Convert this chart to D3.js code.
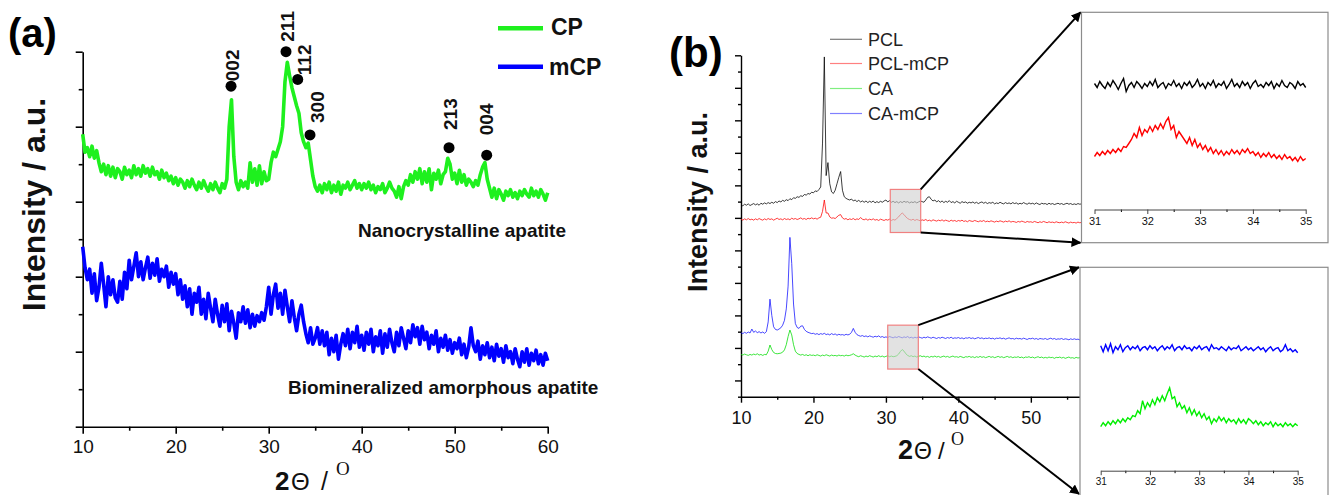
<!DOCTYPE html>
<html>
<head>
<meta charset="utf-8">
<script src="https://cdn.jsdelivr.net/npm/d3@7"></script>
<style>
  body { margin: 0; background: #fff; }
  svg { display: block; font-family: Arial, "Liberation Sans", sans-serif; }
</style>
</head>
<body>
<div id="figure"></div>
<script>
// 1: DATA

// panel (a): 2-theta 10..60, step 0.25
const thetaA = d3.range(201).map(i => 10 + i * 0.25);

const cpCounts = [
  390, 366, 372, 360, 374, 358, 368, 352,
  340, 350, 336, 348, 334, 346, 332, 344,
  340, 330, 346, 336, 342, 332, 348, 336,
  344, 334, 348, 338, 344, 334, 346, 336,
  340, 330, 342, 332, 338, 328, 334, 324,
  332, 322, 330, 326, 318, 328, 320, 330,
  322, 316, 326, 318, 328, 320, 314, 324,
  316, 326, 318, 312, 324, 318, 330, 400,
  436, 360, 326, 316, 328, 320, 326, 318,
  352, 326, 344, 322, 348, 324, 340, 328,
  330, 352, 366, 360, 370, 380, 400, 460,
  486, 468, 452, 440, 428, 418, 392, 380,
  372, 378, 356, 334, 320, 314, 322, 312,
  324, 316, 326, 312, 322, 314, 326, 310,
  322, 318, 326, 316, 322, 328, 318, 324,
  316, 324, 318, 326, 316, 322, 312, 320,
  316, 324, 312, 318, 326, 318, 314, 306,
  320, 304, 320, 328, 322, 336, 326, 340,
  330, 344, 324, 340, 326, 344, 316, 338,
  330, 342, 324, 336, 340, 358, 350, 330,
  338, 324, 342, 326, 336, 322, 330, 326,
  320, 328, 322, 336, 346, 352, 330, 318,
  306, 318, 304, 316, 310, 302, 314, 308,
  316, 306, 312, 304, 314, 308, 316, 310,
  306, 318, 308, 314, 306, 316, 310, 302,
  312
];

const mcpCounts = [
  240, 212, 196, 210, 178, 204, 168, 186,
  218, 190, 160, 200, 176, 196, 172, 166,
  194, 170, 206, 184, 222, 196, 214, 232,
  200, 220, 196, 212, 226, 198, 218, 202,
  224, 194, 210, 200, 214, 186, 206, 190,
  204, 176, 196, 170, 188, 160, 184, 150,
  178, 166, 186, 150, 170, 144, 178, 158,
  140, 170, 150, 134, 162, 140, 164, 128,
  154, 138, 118, 152, 140, 160, 138, 156,
  132, 150, 134, 148, 140, 152, 142, 160,
  186, 150, 176, 190, 158, 178, 150, 182,
  160, 140, 168, 146, 128, 150, 162, 140,
  124, 112, 132, 110, 118, 132, 110, 128,
  108, 126, 96, 118, 100, 122, 90, 110,
  124, 108, 130, 104, 126, 112, 134, 106,
  122, 102, 126, 110, 130, 100, 120, 108,
  128, 98, 124, 106, 130, 112, 100, 126,
  108, 132, 118, 104, 128, 112, 136, 120,
  132, 110, 134, 116, 126, 104, 122, 110,
  128, 100, 118, 106, 122, 102, 116, 98,
  112, 104, 118, 96, 110, 92, 106, 132,
  108, 100, 114, 90, 108, 96, 112, 92,
  106, 88, 110, 94, 104, 86, 108, 92,
  100, 84, 104, 90, 80, 100, 86, 104,
  82, 98, 88, 102, 84, 96, 82, 98,
  88
];

const seriesA = [
  { name: "CP", color: "#1ef01e", values: cpCounts },
  { name: "mCP", color: "#0000ff", values: mcpCounts }
];

const peakLabels = [
  { hkl: "002", theta: 25.95, counts: 454 },
  { hkl: "211", theta: 31.86, counts: 500 },
  { hkl: "112", theta: 33.12, counts: 463 },
  { hkl: "300", theta: 34.44, counts: 389 },
  { hkl: "213", theta: 49.39, counts: 372 },
  { hkl: "004", theta: 53.44, counts: 362 }
];

// panel (b): 2-theta 10..57, step 0.25
const thetaB = d3.range(189).map(i => 10 + i * 0.25);

const pclCounts = [
  11.80, 11.74, 11.84, 11.78, 11.86, 11.76, 11.82, 11.88,
  11.80, 11.86, 11.78, 11.90, 11.84, 11.92, 11.86, 11.94,
  11.88, 11.96, 11.90, 12.00, 11.94, 12.04, 11.98, 12.08,
  12.02, 12.12, 12.06, 12.18, 12.12, 12.24, 12.20, 12.30,
  12.26, 12.36, 12.32, 12.44, 12.40, 12.50, 12.46, 12.58,
  12.54, 12.66, 12.62, 12.74, 12.90, 15.60, 20.90, 13.60,
  14.40, 13.10, 12.60, 12.50, 12.70, 13.10, 13.50, 13.85,
  12.70, 12.30, 12.20, 12.14, 12.10, 12.16, 12.04, 12.10,
  12.00, 12.08, 11.98, 12.04, 11.96, 12.04, 11.94, 12.02,
  11.96, 12.04, 11.92, 12.00, 11.94, 12.02, 11.96, 12.04,
  12.10, 11.98, 12.06, 11.96, 12.02, 11.94, 12.00, 11.92,
  12.00, 11.94, 12.02, 11.96, 12.00, 11.92, 11.98, 11.94,
  12.00, 11.92, 11.98, 12.04, 12.00, 11.96, 12.10, 12.26,
  12.30, 12.14, 12.04, 12.10, 11.98, 12.06, 11.96, 12.04,
  11.94, 12.02, 11.96, 12.06, 11.94, 12.00, 11.92, 12.02,
  11.96, 11.90, 12.00, 11.94, 11.98, 11.90, 11.96, 11.92,
  11.98, 11.90, 11.96, 11.88, 11.94, 11.98, 11.90, 11.96,
  11.88, 11.94, 11.90, 11.96, 11.86, 11.92, 11.88, 11.96,
  11.90, 11.86, 11.94, 11.88, 11.92, 11.86, 11.94, 11.88,
  11.92, 11.84, 11.90, 11.86, 11.94, 11.88, 11.84, 11.92,
  11.86, 11.90, 11.84, 11.92, 11.86, 11.82, 11.90, 11.86,
  11.88, 11.82, 11.90, 11.84, 11.88, 11.82, 11.86, 11.90,
  11.84, 11.88, 11.82, 11.86, 11.90, 11.84, 11.88, 11.82,
  11.86, 11.82, 11.88, 11.84, 11.86
];

const pclMcpCounts = [
  10.92, 10.86, 10.94, 10.88, 10.96, 10.88, 10.92, 10.86,
  10.94, 10.88, 10.96, 10.90, 10.86, 10.94, 10.88, 10.96,
  10.90, 10.94, 10.86, 10.92, 10.98, 10.90, 10.94, 10.88,
  10.96, 10.90, 10.94, 10.88, 10.98, 10.92, 10.96, 10.90,
  10.94, 11.00, 10.92, 10.96, 10.90, 10.98, 10.94, 11.00,
  10.94, 10.98, 10.92, 11.00, 11.04, 11.40, 12.10, 11.30,
  11.30, 11.06, 10.98, 11.00, 10.96, 11.06, 11.16, 11.20,
  11.00, 10.92, 10.96, 10.88, 10.94, 10.90, 10.96, 10.88,
  10.94, 10.90, 11.02, 10.92, 10.88, 10.94, 10.86, 10.92,
  10.88, 10.94, 10.86, 10.90, 10.84, 10.92, 10.88, 10.84,
  10.90, 10.86, 10.92, 10.84, 10.90, 10.86, 10.96, 11.06,
  11.20, 11.30, 11.20, 11.06, 10.96, 10.90, 10.86, 10.92,
  10.84, 10.90, 10.86, 10.82, 10.88, 10.84, 10.90, 10.82,
  10.86, 10.80, 10.88, 10.84, 10.80, 10.86, 10.82, 10.88,
  10.80, 10.86, 10.82, 10.78, 10.86, 10.80, 10.84, 10.78,
  10.84, 10.80, 10.86, 10.78, 10.82, 10.76, 10.84, 10.80,
  10.78, 10.84, 10.80, 10.76, 10.82, 10.78, 10.84, 10.76,
  10.80, 10.76, 10.82, 10.78, 10.74, 10.80, 10.76, 10.82,
  10.78, 10.74, 10.80, 10.76, 10.82, 10.74, 10.78, 10.76,
  10.72, 10.78, 10.74, 10.80, 10.76, 10.72, 10.78, 10.74,
  10.76, 10.72, 10.78, 10.74, 10.70, 10.76, 10.72, 10.78,
  10.74, 10.70, 10.76, 10.72, 10.74, 10.70, 10.76, 10.72,
  10.70, 10.74, 10.70, 10.76, 10.72, 10.68, 10.74, 10.70,
  10.72, 10.68, 10.74, 10.70, 10.72
];

const caCounts = [
  2.60, 2.56, 2.62, 2.58, 2.54, 2.60, 2.56, 2.62,
  2.58, 2.64, 2.56, 2.60, 2.54, 2.60, 2.58, 2.80,
  3.18, 2.90, 2.72, 2.66, 2.64, 2.66, 2.68, 2.74,
  2.88, 3.20, 3.70, 4.10, 3.80, 3.20, 2.80, 2.66,
  2.60, 2.56, 2.60, 2.54, 2.58, 2.52, 2.58, 2.54,
  2.56, 2.52, 2.58, 2.54, 2.50, 2.56, 2.52, 2.58,
  2.54, 2.50, 2.56, 2.52, 2.54, 2.50, 2.56, 2.52,
  2.54, 2.50, 2.56, 2.52, 2.54, 2.58, 2.64, 2.56,
  2.50, 2.46, 2.52, 2.48, 2.44, 2.50, 2.46, 2.52,
  2.48, 2.44, 2.50, 2.46, 2.52, 2.46, 2.50, 2.44,
  2.48, 2.52, 2.46, 2.50, 2.46, 2.48, 2.52, 2.62,
  2.78, 2.90, 2.80, 2.64, 2.54, 2.48, 2.52, 2.46,
  2.50, 2.44, 2.48, 2.52, 2.46, 2.50, 2.44, 2.48,
  2.42, 2.48, 2.44, 2.50, 2.44, 2.48, 2.42, 2.46,
  2.50, 2.44, 2.48, 2.42, 2.46, 2.50, 2.44, 2.46,
  2.42, 2.48, 2.44, 2.40, 2.46, 2.44, 2.48, 2.42,
  2.46, 2.40, 2.46, 2.42, 2.48, 2.42, 2.46, 2.40,
  2.44, 2.48, 2.42, 2.46, 2.40, 2.44, 2.48, 2.42,
  2.46, 2.40, 2.44, 2.48, 2.42, 2.46, 2.40, 2.44,
  2.42, 2.46, 2.40, 2.44, 2.38, 2.44, 2.42, 2.46,
  2.40, 2.44, 2.38, 2.42, 2.46, 2.40, 2.44, 2.38,
  2.42, 2.38, 2.44, 2.40, 2.42, 2.36, 2.42, 2.40,
  2.44, 2.38, 2.42, 2.36, 2.40, 2.44, 2.38, 2.40,
  2.36, 2.42, 2.38, 2.40, 2.38
];

const caMcpCounts = [
  3.94, 3.88, 3.96, 3.90, 3.98, 3.92, 4.16, 3.96,
  4.04, 3.94, 4.00, 3.92, 3.98, 3.90, 4.00, 4.60,
  6.00, 5.00, 4.30, 4.14, 4.10, 4.16, 4.24, 4.40,
  4.70, 5.40, 6.80, 9.80, 8.20, 5.70, 4.50, 4.26,
  4.20, 4.34, 4.36, 4.14, 4.02, 3.96, 3.92, 3.88,
  3.90, 3.84, 3.88, 3.82, 3.88, 3.84, 3.90, 3.82,
  3.86, 3.80, 3.88, 3.82, 3.86, 3.78, 3.84, 3.80,
  3.82, 3.78, 3.84, 3.80, 3.84, 3.96, 4.20, 3.96,
  3.82, 3.76, 3.72, 3.76, 3.70, 3.74, 3.68, 3.74,
  3.70, 3.66, 3.72, 3.68, 3.74, 3.66, 3.70, 3.64,
  3.68, 3.64, 3.70, 3.66, 3.62, 3.68, 3.64, 3.70,
  3.66, 3.62, 3.68, 3.64, 3.70, 3.62, 3.66, 3.60,
  3.66, 3.62, 3.68, 3.64, 3.60, 3.66, 3.62, 3.68,
  3.64, 3.60, 3.66, 3.62, 3.58, 3.64, 3.60, 3.66,
  3.62, 3.58, 3.64, 3.60, 3.66, 3.58, 3.62, 3.60,
  3.64, 3.58, 3.62, 3.56, 3.62, 3.60, 3.64, 3.58,
  3.62, 3.56, 3.60, 3.64, 3.58, 3.62, 3.56, 3.60,
  3.58, 3.62, 3.56, 3.60, 3.54, 3.60, 3.58, 3.62,
  3.56, 3.60, 3.54, 3.58, 3.62, 3.56, 3.58, 3.54,
  3.60, 3.56, 3.58, 3.54, 3.60, 3.56, 3.52, 3.58,
  3.56, 3.60, 3.54, 3.58, 3.52, 3.58, 3.56, 3.54,
  3.58, 3.52, 3.56, 3.60, 3.54, 3.58, 3.52, 3.56,
  3.54, 3.58, 3.52, 3.56, 3.54, 3.50, 3.56, 3.52,
  3.56, 3.52, 3.54, 3.50, 3.54
];

const seriesB = [
  { name: "PCL", color: "#000000", legend: "#7a7a7a", values: pclCounts },
  { name: "PCL-mCP", color: "#ff0000", legend: "#ff8080", values: pclMcpCounts },
  { name: "CA", color: "#00dd00", legend: "#80ee80", values: caCounts },
  { name: "CA-mCP", color: "#1010ff", legend: "#8080ff", values: caMcpCounts }
];

// zoomed insets: 2-theta 31..35, step 0.05
const thetaInset = d3.range(81).map(i => 31 + i * 0.05);

const pclZoom = [
  126, 122, 128, 124, 121, 127, 123, 129, 125, 120,
  126, 131, 118, 124, 127, 122, 128, 125, 121, 126,
  123, 128, 124, 130, 122, 125, 127, 121, 126, 124,
  129, 123, 126, 121, 127, 124, 128, 122, 125, 130,
  123, 126, 121, 127, 124, 129, 122, 126, 124, 128,
  121, 125, 130, 123, 126, 122, 128, 124, 127, 121,
  126, 129, 123, 125, 122, 127, 124, 128, 121, 126,
  123, 129, 124, 122, 127, 125, 121, 128, 124, 126,
  122
];
const pclMcpZoom = [
  53, 57, 54, 58, 55, 59, 56, 60, 57, 61,
  58, 63, 62, 66, 70, 76, 72, 82, 74, 80,
  77, 83, 78, 84, 80, 86, 81, 88, 92, 80,
  84, 72, 78, 74, 70, 66, 72, 64, 70, 62,
  66, 60, 64, 58, 62, 56, 60, 55, 59, 54,
  58, 55, 60, 56, 59, 55, 60, 57, 61, 56,
  58, 54, 57, 52, 56, 53, 57, 52, 55, 51,
  54, 50, 55, 51, 53, 49, 52, 48, 53, 49,
  51
];
const caMcpZoom = [
  125, 119, 126, 120, 127, 118, 124, 121, 126, 119,
  123, 125, 121, 124, 122, 125, 120, 123, 124, 121,
  125, 122, 124, 120, 123, 125, 121, 124, 122, 126,
  120, 123, 124, 121, 125, 122, 123, 120, 124, 122,
  125, 121, 123, 124, 120, 126, 122, 123, 121, 124,
  122, 120, 124, 121, 123, 122, 125, 120, 122, 124,
  121, 123, 120, 122, 124, 121, 123, 119, 122, 124,
  120, 122, 123, 119, 121, 126, 120, 122, 119, 121,
  118
];
const caZoom = [
  44, 48, 45, 49, 46, 50, 47, 51, 48, 52,
  49, 53, 51, 55, 54, 60, 57, 70, 62, 68,
  64, 71, 66, 73, 69, 75, 70, 77, 83, 72,
  74, 64, 68, 62, 65, 58, 63, 56, 61, 55,
  59, 53, 57, 51, 54, 47, 52, 49, 54, 50,
  53, 48, 52, 49, 51, 47, 52, 48, 51, 47,
  52, 50, 47, 50, 46, 49, 45, 48, 46, 49,
  44, 48, 45, 47, 44, 48, 45, 47, 44, 47,
  45
];

const zoomTicks = [31, 32, 33, 34, 35];

// 2: LAYOUT
const W = 1329, H = 495;
const svg = d3.select("#figure").append("svg")
    .attr("width", W).attr("height", H);

const defs = svg.append("defs");
defs.append("marker")
    .attr("id", "arrowHead")
    .attr("viewBox", "0 0 10 10")
    .attr("refX", 9).attr("refY", 5)
    .attr("markerWidth", 5).attr("markerHeight", 5)
    .attr("orient", "auto")
    .append("path").attr("d", "M0,0 L10,5 L0,10 Z").attr("fill", "#000");

const toPoints = (xs, ys) => ys.map((v, i) => [xs[i], v]).filter(d => d[0] !== undefined);

function styleAxis(g, width, fontSize) {
    g.selectAll(".domain, .tick line").attr("stroke", "#000").attr("stroke-width", width);
    g.selectAll(".tick text").attr("font-size", fontSize).attr("fill", "#111")
        .attr("font-family", "Arial, 'Liberation Sans', sans-serif");
}

// ==========================================
//         PANEL (a)
// ==========================================
const xA = d3.scaleLinear().domain([10, 60]).range([82.7, 547.7]);
const yA = d3.scaleLinear().domain([0, 500]).range([426.7, 51.7]);
const gA = svg.append("g");

// axes
gA.append("g").attr("transform", `translate(0,${yA(0)})`)
    .call(d3.axisBottom(xA).tickValues(d3.range(15, 60, 10)).tickSize(4).tickSizeOuter(0).tickFormat(""))
    .call(g => g.select(".domain").remove())
    .call(g => styleAxis(g, 1.6, 19));
gA.append("g").attr("transform", `translate(0,${yA(0)})`)
    .call(d3.axisBottom(xA).tickValues(d3.range(10, 61, 10)).tickSize(7).tickSizeOuter(0).tickPadding(6).tickFormat(d3.format("d")))
    .call(g => styleAxis(g, 1.6, 19));
gA.append("g").attr("transform", `translate(${xA(10)},0)`)
    .call(d3.axisLeft(yA).tickValues(d3.range(50, 500, 100)).tickSize(4).tickSizeOuter(0).tickFormat(""))
    .call(g => g.select(".domain").remove())
    .call(g => styleAxis(g, 1.6, 19));
gA.append("g").attr("transform", `translate(${xA(10)},0)`)
    .call(d3.axisLeft(yA).tickValues(d3.range(0, 501, 100)).tickSize(7).tickSizeOuter(0).tickFormat(""))
    .call(g => styleAxis(g, 1.6, 19));

// curves
const lineA = d3.line().x(d => xA(d[0])).y(d => yA(d[1]));
seriesA.forEach(s => {
    gA.append("path")
        .datum(toPoints(thetaA, s.values))
        .attr("fill", "none")
        .attr("stroke", s.color)
        .attr("stroke-width", 3.6)
        .attr("stroke-linejoin", "round")
        .attr("d", lineA);
});

// peak markers
const labelOffset = { "002": [7.8, -5], "211": [7.8, -10], "112": [13.1, -4.3],
                      "300": [14.3, -12], "213": [7.5, -17.7], "004": [6.8, -20] };
peakLabels.forEach(p => {
    const cx = xA(p.theta), cy = yA(p.counts);
    const off = labelOffset[p.hkl];
    gA.append("text")
        .attr("transform", `translate(${cx + off[0]},${cy + off[1]}) rotate(-90)`)
        .attr("font-size", 19).attr("font-weight", "bold").attr("fill", "#111")
        .text(p.hkl);
    gA.append("circle").attr("cx", cx).attr("cy", cy).attr("r", 5.5).attr("fill", "#000");
});

// text annotations
gA.append("text").attr("x", 358).attr("y", 237)
    .attr("font-size", 19).attr("font-weight", "bold").attr("fill", "#111")
    .text("Nanocrystalline apatite");
gA.append("text").attr("x", 288).attr("y", 394)
    .attr("font-size", 19).attr("font-weight", "bold").attr("fill", "#111")
    .text("Biomineralized amorphous apatite");

// legend
const legA = [{ y: 28.3, ty: 35, tx: 551 }, { y: 66.7, ty: 75, tx: 549 }];
seriesA.forEach((s, i) => {
    gA.append("line").attr("x1", 498).attr("x2", 543).attr("y1", legA[i].y).attr("y2", legA[i].y)
        .attr("stroke", s.color).attr("stroke-width", 4.5);
    gA.append("text").attr("x", legA[i].tx).attr("y", legA[i].ty)
        .attr("font-size", 23).attr("font-weight", "bold").attr("fill", "#111")
        .text(s.name);
});

// labels
gA.append("text").attr("x", 8).attr("y", 47)
    .attr("font-size", 40).attr("font-weight", "bold").text("(a)");
gA.append("text")
    .attr("transform", "translate(45,204.5) rotate(-90)")
    .attr("text-anchor", "middle")
    .attr("font-size", 32).attr("font-weight", "bold").attr("fill", "#111")
    .text("Intensity / a.u.");
const titleA = gA.append("text").attr("y", 490).attr("fill", "#111");
titleA.append("tspan").attr("x", 275).attr("font-size", 26).attr("font-weight", "bold").text("2");
titleA.append("tspan").attr("x", 291).attr("font-size", 24).text("Θ");
titleA.append("tspan").attr("x", 321).attr("font-size", 25).text("/");
titleA.append("tspan").attr("x", 336).attr("dy", -15).attr("font-size", 19)
    .attr("font-family", "'Liberation Serif', 'Times New Roman', serif").text("O");

// ==========================================
//         PANEL (b)
// ==========================================
const xB = d3.scaleLinear().domain([10, 60]).range([741, 1103.3]);
const yB = d3.scaleLinear().domain([0, 21]).range([396.7, 55.3]);
const gB = svg.append("g");

gB.append("g").attr("transform", `translate(0,${yB(0)})`)
    .call(d3.axisBottom(xB).tickValues(d3.range(15, 60, 10)).tickSize(3).tickSizeOuter(0).tickFormat(""))
    .call(g => g.select(".domain").remove())
    .call(g => styleAxis(g, 1.4, 18));
gB.append("g").attr("transform", `translate(0,${yB(0)})`)
    .call(d3.axisBottom(xB).tickValues(d3.range(10, 61, 10)).tickSize(6).tickSizeOuter(0).tickPadding(9).tickFormat(d3.format("d")))
    .call(g => styleAxis(g, 1.4, 18));
gB.append("g").attr("transform", `translate(${xB(10)},0)`)
    .call(d3.axisLeft(yB).tickValues(d3.range(0, 21, 2)).tickSize(3).tickSizeOuter(0).tickFormat(""))
    .call(g => g.select(".domain").remove())
    .call(g => styleAxis(g, 1.4, 18));
gB.append("g").attr("transform", `translate(${xB(10)},0)`)
    .call(d3.axisLeft(yB).tickValues(d3.range(1, 22, 2)).tickSize(6).tickSizeOuter(0).tickFormat(""))
    .call(g => styleAxis(g, 1.4, 18));

const lineB = d3.line().x(d => xB(d[0])).y(d => yB(d[1]));
seriesB.forEach(s => {
    gB.append("path")
        .datum(toPoints(thetaB, s.values))
        .attr("fill", "none")
        .attr("stroke", s.color)
        .attr("stroke-width", 0.9)
        .attr("stroke-opacity", 0.85)
        .attr("d", lineB);
});

// zoom windows on the main plot
const zoomBoxes = [
    { t0: 30.6, t1: 34.8, lo: 10.1, hi: 12.75 },
    { t0: 30.25, t1: 34.47, lo: 1.7, hi: 4.4 }
];
zoomBoxes.forEach(b => {
    gB.append("rect")
        .attr("x", xB(b.t0)).attr("y", yB(b.hi))
        .attr("width", xB(b.t1) - xB(b.t0)).attr("height", yB(b.lo) - yB(b.hi))
        .attr("fill", "#cfcfcf").attr("fill-opacity", 0.6)
        .attr("stroke", "#f08080").attr("stroke-width", 1.2);
});

// legend
const legYB = [39.3, 63.5, 88.5, 113.5];
seriesB.forEach((s, i) => {
    gB.append("line").attr("x1", 830).attr("x2", 862).attr("y1", legYB[i]).attr("y2", legYB[i])
        .attr("stroke", s.legend).attr("stroke-width", 1.2);
    gB.append("text").attr("x", 868).attr("y", legYB[i] + 6.5)
        .attr("font-size", 18).attr("fill", "#222").text(s.name);
});

gB.append("text").attr("x", 669).attr("y", 67)
    .attr("font-size", 42).attr("font-weight", "bold").text("(b)");
gB.append("text")
    .attr("transform", "translate(707,202) rotate(-90)")
    .attr("text-anchor", "middle")
    .attr("font-size", 27).attr("font-weight", "bold").attr("fill", "#111")
    .text("Intensity / a.u.");
const titleB = gB.append("text").attr("y", 459).attr("fill", "#111");
titleB.append("tspan").attr("x", 898).attr("font-size", 27).attr("font-weight", "bold").text("2");
titleB.append("tspan").attr("x", 914).attr("font-size", 23).text("Θ");
titleB.append("tspan").attr("x", 938).attr("font-size", 24).text("/");
titleB.append("tspan").attr("x", 951).attr("dy", -14).attr("font-size", 18)
    .attr("font-family", "'Liberation Serif', 'Times New Roman', serif").text("O");

// ==========================================
//         INSETS
// ==========================================
const insets = [
    { box: [1081.5, 12.3, 1328, 242.7], axisY: 209.5, t31: 1094.5, t35: 1305.7, font: 11,
      series: [{ v: pclZoom, c: "#000000" }, { v: pclMcpZoom, c: "#ff0000" }] },
    { box: [1080, 267.3, 1328, 520], axisY: 470.7, t31: 1100.7, t35: 1297.7, font: 10,
      series: [{ v: caMcpZoom, c: "#0000ff" }, { v: caZoom, c: "#00ee00" }] }
];

// arrows from zoom windows to insets
insets.forEach((ins, i) => {
    const b = zoomBoxes[i];
    const xr = xB(b.t1);
    [[yB(b.hi), ins.box[1]], [yB(b.lo), i === 0 ? ins.box[3] : 494]].forEach(([y0, y1]) => {
        svg.append("line")
            .attr("x1", xr).attr("y1", y0).attr("x2", ins.box[0] - 1).attr("y2", y1)
            .attr("stroke", "#000").attr("stroke-width", 2)
            .attr("marker-end", "url(#arrowHead)");
    });
});

insets.forEach(ins => {
    const g = svg.append("g");
    g.append("rect")
        .attr("x", ins.box[0]).attr("y", ins.box[1])
        .attr("width", ins.box[2] - ins.box[0]).attr("height", ins.box[3] - ins.box[1])
        .attr("fill", "#fff").attr("stroke", "#8c8c8c").attr("stroke-width", 1.2);
    const xi = d3.scaleLinear().domain([31, 35]).range([ins.t31, ins.t35]);
    const yi = d3.scaleLinear().domain([0, 200]).range([ins.axisY, ins.axisY - 200]);
    g.append("g").attr("transform", `translate(0,${ins.axisY})`)
        .call(d3.axisBottom(xi).tickValues(d3.range(31.5, 35, 1)).tickSize(2.5).tickSizeOuter(0).tickFormat(""))
        .call(a => a.select(".domain").remove())
        .call(a => styleAxis(a, 1, ins.font));
    g.append("g").attr("transform", `translate(0,${ins.axisY})`)
        .call(d3.axisBottom(xi).tickValues(zoomTicks).tickSize(4.5).tickSizeOuter(0).tickPadding(3).tickFormat(d3.format("d")))
        .call(a => styleAxis(a, 1, ins.font))
        .call(a => a.selectAll(".domain, .tick line").attr("stroke", "#444"));
    const li = d3.line().x(d => xi(d[0])).y(d => yi(d[1]));
    ins.series.forEach(s => {
        g.append("path")
            .datum(toPoints(thetaInset, s.v))
            .attr("fill", "none").attr("stroke", s.c).attr("stroke-width", 1.4)
            .attr("d", li);
    });
});
</script>
</body>
</html>
